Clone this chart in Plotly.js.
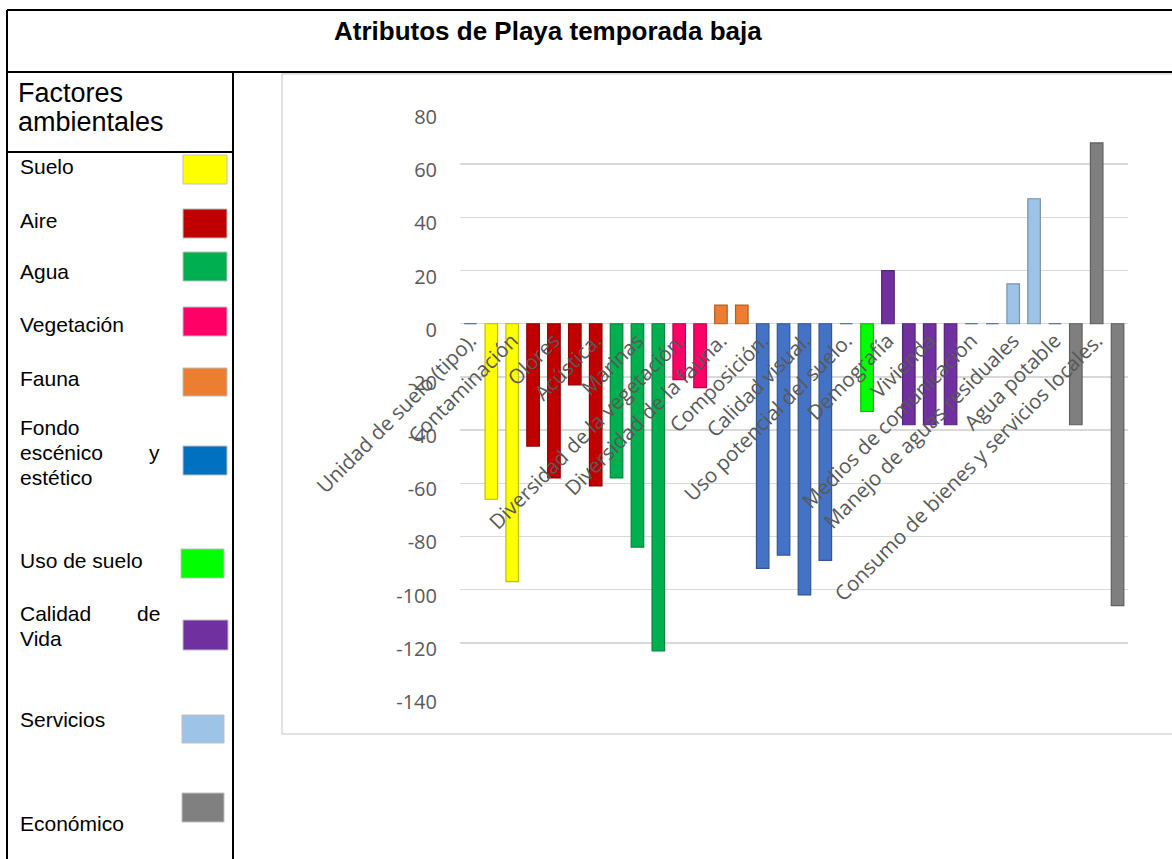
<!DOCTYPE html>
<html>
<head>
<meta charset="utf-8">
<script src="https://cdn.plot.ly/plotly-3.0.1.min.js"></script>
<style>html,body{margin:0;padding:0;background:#fff;}#chart{width:1172px;height:859px;}</style>
</head>
<body>
<div id="chart"></div>
<script>
// ---------- DATA ----------
const chartTitle = "Atributos de Playa temporada baja";
const legendHeader = ["Factores", "ambientales"];
const groupNames = ["Suelo", "Aire", "Agua", "Vegetación", "Fauna",
  "Fondo escénico y estético", "Uso de suelo", "Calidad de Vida", "Servicios", "Económico"];
const groupBarColors = ["#FFFF00", "#C00000", "#00B050", "#FF0066", "#ED7D31",
  "#4472C4", "#00FF00", "#7030A0", "#9DC3E6", "#7F7F7F"];
const groupSwatchColors = ["#FFFF00", "#C00000", "#00B050", "#FF0066", "#ED7D31",
  "#0070C0", "#00FF00", "#7030A0", "#9DC3E6", "#808080"];
// 32 bars, in order
const barValues = [0, -66, -97, -46, -58, -23, -61, -58, -84, -123, -21, -24, 7, 7,
  -92, -87, -102, -89, 0, -33, 20, -38, -38, -38, 0, 0, 15, 47, 0, -38, 68, -106];
const barGroup = [5, 0, 0, 1, 1, 1, 1, 2, 2, 2, 3, 3, 4, 4,
  5, 5, 5, 5, 5, 6, 7, 7, 7, 7, 5, 5, 8, 8, 5, 9, 9, 9];
// visible category labels (every second bar)
const tickLabels = ["Unidad de suelo (tipo).", "Contaminación", "Olores", "Acústica.", "Marinas",
  "Diversidad de la vegetación.", "Diversidad de la fauna.", "Composición.", "Calidad visual.",
  "Uso potencial del suelo.", "Demografía", "Vivienda", "Medios de comunicación",
  "Manejo de aguas residuales", "Agua potable", "Consumo de bienes y servicios locales."];
const yTicks = [80, 60, 40, 20, 0, -20, -40, -60, -80, -100, -120, -140];

// ---------- LAYOUT HELPERS ----------
const W = 1172, H = 859;
const px = x => x / W;
const py = y => 1 - y / H;

function shade(hex, f) {
  const n = parseInt(hex.slice(1), 16);
  const r = Math.round(((n >> 16) & 255) * f), g = Math.round(((n >> 8) & 255) * f), b = Math.round((n & 255) * f);
  return `rgb(${r},${g},${b})`;
}

const xIdx = barValues.map((v, i) => i);
const tickVals = tickLabels.map((t, i) => i * 2);
const yMin = Math.min(...yTicks), yMax = Math.max(...yTicks);
const yDom = [py(696), py(111)];
const zeroPos = yDom[0] + (0 - yMin) / (yMax - yMin) * (yDom[1] - yDom[0]);

const barTrace = {
  type: "bar",
  x: xIdx,
  y: barValues,
  width: 0.6,
  marker: {
    color: barGroup.map(g => groupBarColors[g]),
    line: { color: barGroup.map(g => shade(groupBarColors[g], 0.75)), width: 1.2 }
  },
  hoverinfo: "y",
  showlegend: false
};

// ---------- FRAME ----------
const black = { color: "#000", width: 2 };
const shapes = [
  { type: "line", xref: "paper", yref: "paper", x0: px(7), x1: px(1172), y0: py(10), y1: py(10), line: black },
  { type: "line", xref: "paper", yref: "paper", x0: px(7), x1: px(7), y0: py(10), y1: py(859), line: black },
  { type: "line", xref: "paper", yref: "paper", x0: px(7), x1: px(1172), y0: py(72), y1: py(72), line: black },
  { type: "line", xref: "paper", yref: "paper", x0: px(233), x1: px(233), y0: py(72), y1: py(859), line: black },
  { type: "line", xref: "paper", yref: "paper", x0: px(7), x1: px(233), y0: py(152), y1: py(152), line: black },
  { type: "rect", xref: "paper", yref: "paper", x0: px(282), x1: px(1180), y0: py(74), y1: py(734),
    line: { color: "#D9D9D9", width: 1.5 }, fillcolor: "rgba(0,0,0,0)", layer: "below" }
];

const annotations = [
  { text: "<b>" + chartTitle + "</b>", xref: "paper", yref: "paper", x: px(548), y: py(31),
    showarrow: false, xanchor: "center", yanchor: "middle",
    font: { family: "Liberation Sans, Arial, sans-serif", size: 26, color: "#000" } }
];
const legendFont = { family: "Liberation Sans, Arial, sans-serif", size: 21, color: "#000" };
const headerFont = { family: "Liberation Sans, Arial, sans-serif", size: 27, color: "#000" };
[93, 122].forEach((y, i) => annotations.push({ text: legendHeader[i], xref: "paper", yref: "paper",
  x: px(16), y: py(y), showarrow: false, xanchor: "left", yanchor: "middle", font: headerFont }));

// legend rows: text lines (left part, right part, y) and swatch box
const legendRows = [
  { lines: [["Suelo", "", 167]], box: [183, 227, 155, 184] },
  { lines: [["Aire", "", 221]], box: [183, 227, 209, 238] },
  { lines: [["Agua", "", 272]], box: [183, 227, 252, 281] },
  { lines: [["Vegetación", "", 325]], box: [183, 227, 307, 336] },
  { lines: [["Fauna", "", 378]], box: [183, 227, 368, 396] },
  { lines: [["Fondo", "", 427], ["escénico", "y", 452], ["estético", "", 478]], box: [183, 227, 446, 475] },
  { lines: [["Uso de suelo", "", 560]], box: [181, 224, 549, 578] },
  { lines: [["Calidad", "de", 613], ["Vida", "", 638]], box: [183, 228, 620, 650] },
  { lines: [["Servicios", "", 719]], box: [182, 224, 715, 743] },
  { lines: [["Económico", "", 823]], box: [182, 224, 793, 822] }
];
legendRows.forEach((row, gi) => {
  row.lines.forEach(([left, right, y]) => {
    annotations.push({ text: left, xref: "paper", yref: "paper", x: px(18), y: py(y),
      showarrow: false, xanchor: "left", yanchor: "middle", font: legendFont });
    if (right) annotations.push({ text: right, xref: "paper", yref: "paper", x: px(162), y: py(y),
      showarrow: false, xanchor: "right", yanchor: "middle", font: legendFont });
  });
  const b = row.box;
  shapes.push({ type: "rect", xref: "paper", yref: "paper", x0: px(b[0]), x1: px(b[1]), y0: py(b[3]), y1: py(b[2]),
    fillcolor: groupSwatchColors[gi], line: { color: "#BFBFBF", width: 1 } });
});

const tickFont = { family: "Open Sans, sans-serif", size: 20, color: "#595959" };

const layout = {
  width: W, height: H,
  margin: { l: 0, r: 0, t: 0, b: 0 },
  paper_bgcolor: "#fff", plot_bgcolor: "rgba(0,0,0,0)",
  showlegend: false,
  xaxis: {
    domain: [px(460), px(1128)],
    range: [-0.5, barValues.length - 0.5],
    anchor: "free", position: zeroPos,
    tickmode: "array", tickvals: tickVals, ticktext: tickLabels,
    tickangle: -45, tickfont: { family: "Open Sans, sans-serif", size: 20.5, color: "#595959" },
    showgrid: false, zeroline: false, showline: false, ticks: ""
  },
  yaxis: {
    domain: yDom,
    range: [yMin, yMax],
    tickmode: "array", tickvals: yTicks, ticktext: yTicks.map(v => String(v)),
    tickfont: tickFont,
    ticklabelshift: 6,
    ticks: "outside", ticklen: 18, tickcolor: "rgba(0,0,0,0)",
    showgrid: true, gridcolor: "#D9D9D9", gridwidth: 1.5,
    zeroline: false, showline: false
  },
  shapes: shapes,
  annotations: annotations
};

Plotly.newPlot("chart", [barTrace], layout, { displayModeBar: false, staticPlot: true });
</script>
</body>
</html>
